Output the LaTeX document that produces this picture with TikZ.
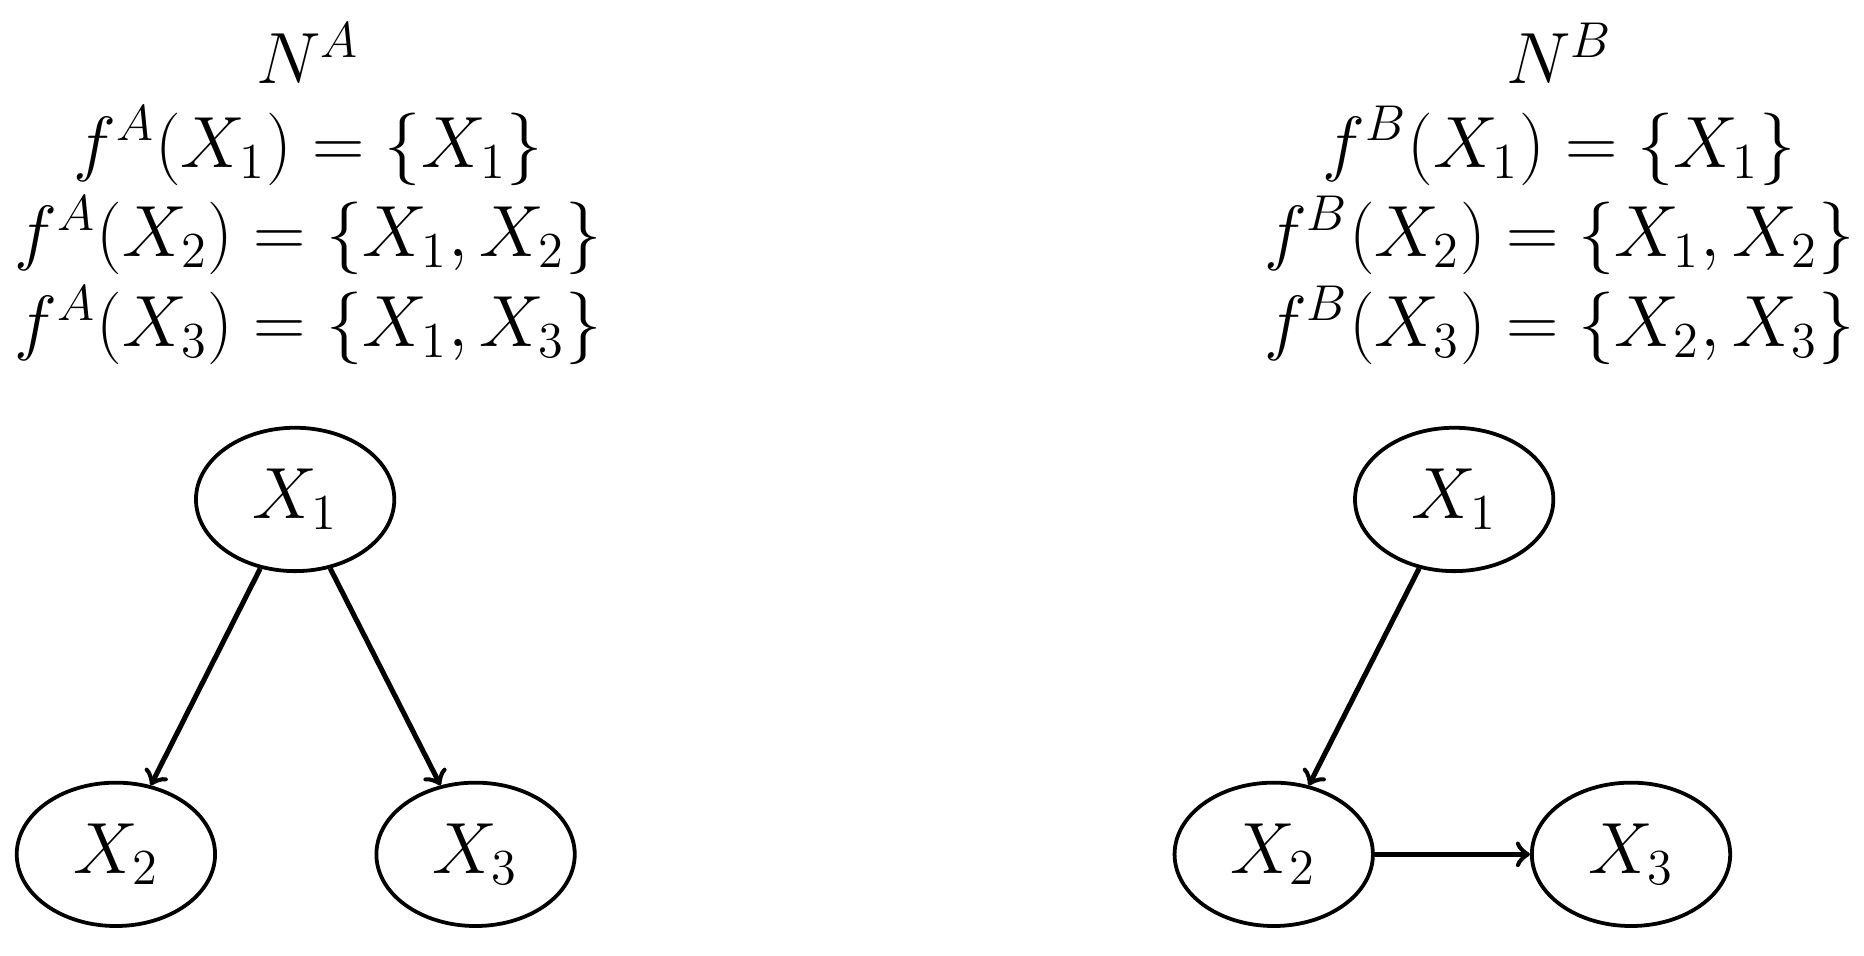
\documentclass[tikz,border=0pt]{standalone}
\usetikzlibrary{shapes.geometric}
\begin{document}
\begin{tikzpicture}[
  v/.style={ellipse,draw,line width=0.9pt,minimum width=1.66cm,minimum height=1.2cm,inner sep=0pt,font=\fontsize{18.5}{22}\selectfont},
  t/.style={anchor=base,font=\fontsize{16.7}{20}\selectfont,inner sep=0pt},
  e/.style={->,line width=1.2pt}]
\useasboundingbox (0,0) rectangle (15.6,8);
% left
\node[t] (la) at (2.58,7.30) {$N^A$};
\node[t] (l1) at (2.58,6.60) {$f^A(X_1)=\{X_1\}$};
\node[t] (l2) at (2.58,5.85) {$f^A(X_2)=\{X_1,X_2\}$};
\node[t] (l3) at (2.58,5.10) {$f^A(X_3)=\{X_1,X_3\}$};
\node[v] (a1) at (2.47,3.82) {$X_1$};
\node[v] (a2) at (0.97,0.85) {$X_2$};
\node[v] (a3) at (3.98,0.85) {$X_3$};
\draw[e] (a1) -- (a2);
\draw[e] (a1) -- (a3);
% right
\node[t] (ra) at (13.05,7.30) {$N^B$};
\node[t] (r1) at (13.05,6.60) {$f^B(X_1)=\{X_1\}$};
\node[t] (r2) at (13.05,5.85) {$f^B(X_2)=\{X_1,X_2\}$};
\node[t] (r3) at (13.05,5.10) {$f^B(X_3)=\{X_2,X_3\}$};
\node[v] (b1) at (12.17,3.82) {$X_1$};
\node[v] (b2) at (10.66,0.85) {$X_2$};
\node[v] (b3) at (13.65,0.85) {$X_3$};
\draw[e] (b1) -- (b2);
\draw[e] (b2) -- (b3);
\end{tikzpicture}
\end{document}
